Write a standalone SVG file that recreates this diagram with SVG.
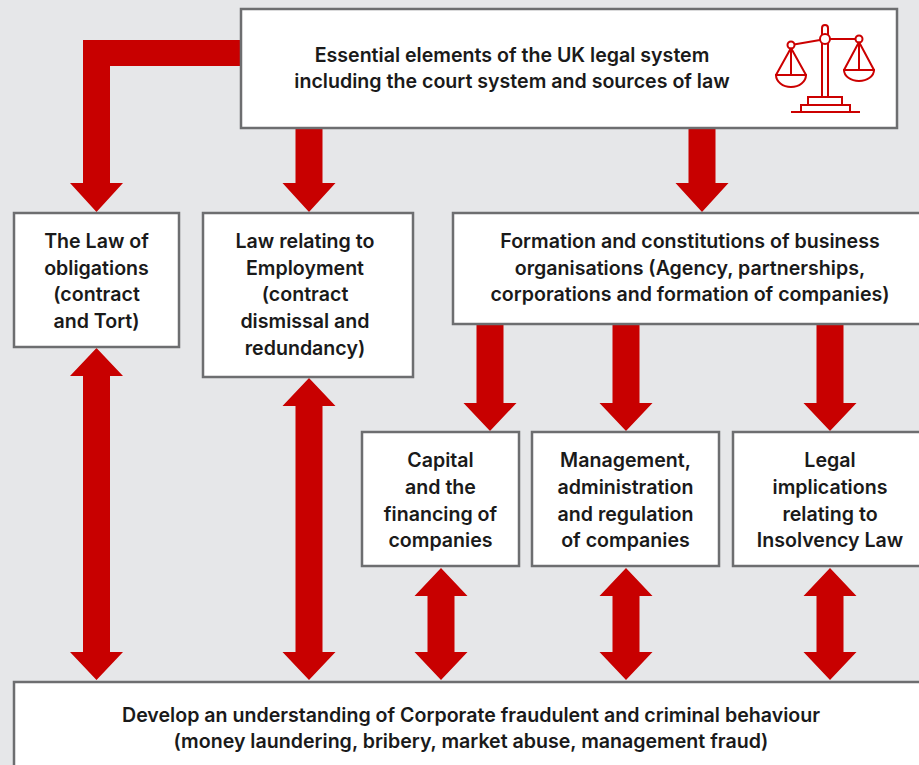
<svg xmlns="http://www.w3.org/2000/svg" width="919" height="765" viewBox="0 0 919 765">
<style>
.box{fill:#ffffff;stroke:#6d6e70;stroke-width:2.5}
.arr{fill:#c80000}
.t{font-family:Inter,"Liberation Sans",sans-serif;font-weight:600;font-size:19.6px;fill:#1a1a1a;text-anchor:middle}
.ic{fill:none;stroke:#cc0000;stroke-width:2}
</style>
<rect width="919" height="765" fill="#e6e7e9"/>
<g id="connectors">
<polygon class="arr" points="243,40 83,40 83,183 70,183 96.5,212 123,183 110,183 110,66 243,66"/>
<polygon class="arr" points="295.5,128 322.5,128 322.5,183 335.5,183 309,212 282.5,183 295.5,183"/>
<polygon class="arr" points="688.5,128 715.5,128 715.5,183 728.5,183 702,212 675.5,183 688.5,183"/>
<polygon class="arr" points="476.5,324 503.5,324 503.5,403 516.5,403 490,431 463.5,403 476.5,403"/>
<polygon class="arr" points="612.5,324 639.5,324 639.5,403 652.5,403 626,431 599.5,403 612.5,403"/>
<polygon class="arr" points="816.5,324 843.5,324 843.5,403 856.5,403 830,431 803.5,403 816.5,403"/>
<polygon class="arr" points="96.5,348 123,376 110,376 110,652 123,652 96.5,680 70,652 83,652 83,376 70,376"/>
<polygon class="arr" points="309,378 335.5,406 322.5,406 322.5,652 335.5,652 309,680 282.5,652 295.5,652 295.5,406 282.5,406"/>
<polygon class="arr" points="441,568 467.5,596 454.5,596 454.5,652 467.5,652 441,680 414.5,652 427.5,652 427.5,596 414.5,596"/>
<polygon class="arr" points="626,568 652.5,596 639.5,596 639.5,652 652.5,652 626,680 599.5,652 612.5,652 612.5,596 599.5,596"/>
<polygon class="arr" points="830,568 856.5,596 843.5,596 843.5,652 856.5,652 830,680 803.5,652 816.5,652 816.5,596 803.5,596"/>
</g>
<g id="top">
<rect class="box" x="241" y="9" width="656" height="119"/>
<text class="t"><tspan x="512" y="62">Essential elements of the UK legal system</tspan><tspan x="512" y="88">including the court system and sources of law</tspan></text>
<g id="scales-icon" class="ic">
<path d="M822,98 V28 a3,3 0 0 1 6,0 V98"/>
<circle cx="825" cy="39" r="5" fill="#fff"/>
<line x1="791" y1="45" x2="820" y2="40"/>
<line x1="830" y1="39" x2="859" y2="39"/>
<circle cx="791" cy="45" r="3.5" fill="#fff"/>
<circle cx="859" cy="39" r="3.5" fill="#fff"/>
<path d="M791,48 L776,75 M791,48 L806,75 M791,48 V75 M775,75 H807 M776,75 A15,12 0 0 0 806,75"/>
<path d="M859,42 L844,70 M859,42 L874,70 M859,42 V70 M843,70 H875 M844,70 A15,11 0 0 0 874,70"/>
<rect x="808" y="97" width="34" height="8"/>
<rect x="801" y="105" width="49" height="7"/>
<line x1="791" y1="112" x2="860" y2="112"/>
</g>
</g>
<g id="obligations">
<rect class="box" x="14" y="213" width="165" height="134"/>
<text class="t"><tspan x="96.5" y="248">The Law of</tspan><tspan x="96.5" y="275">obligations</tspan><tspan x="96.5" y="301">(contract</tspan><tspan x="96.5" y="328">and Tort)</tspan></text>
</g>
<g id="employment">
<rect class="box" x="203" y="213" width="210" height="164"/>
<text class="t"><tspan x="305" y="248">Law relating to</tspan><tspan x="305" y="275">Employment</tspan><tspan x="305" y="301">(contract</tspan><tspan x="305" y="328">dismissal and</tspan><tspan x="305" y="355">redundancy)</tspan></text>
</g>
<g id="formation">
<rect class="box" x="453" y="213" width="475" height="111"/>
<text class="t"><tspan x="690" y="248">Formation and constitutions of business</tspan><tspan x="690" y="275">organisations (Agency, partnerships,</tspan><tspan x="690" y="301">corporations and formation of companies)</tspan></text>
</g>
<g id="capital">
<rect class="box" x="362" y="432" width="157" height="134"/>
<text class="t"><tspan x="440.5" y="467">Capital</tspan><tspan x="440.5" y="494">and the</tspan><tspan x="440.5" y="521">financing of</tspan><tspan x="440.5" y="547">companies</tspan></text>
</g>
<g id="management">
<rect class="box" x="532" y="432" width="187" height="134"/>
<text class="t"><tspan x="625.5" y="467">Management,</tspan><tspan x="625.5" y="494">administration</tspan><tspan x="625.5" y="521">and regulation</tspan><tspan x="625.5" y="547">of companies</tspan></text>
</g>
<g id="insolvency">
<rect class="box" x="733" y="432" width="195" height="134"/>
<text class="t"><tspan x="830" y="467">Legal</tspan><tspan x="830" y="494">implications</tspan><tspan x="830" y="521">relating to</tspan><tspan x="830" y="547">Insolvency Law</tspan></text>
</g>
<g id="fraud">
<rect class="box" x="14" y="682" width="914" height="100"/>
<text class="t"><tspan x="471" y="722">Develop an understanding of Corporate fraudulent and criminal behaviour</tspan><tspan x="471" y="748">(money laundering, bribery, market abuse, management fraud)</tspan></text>
</g>
</svg>
